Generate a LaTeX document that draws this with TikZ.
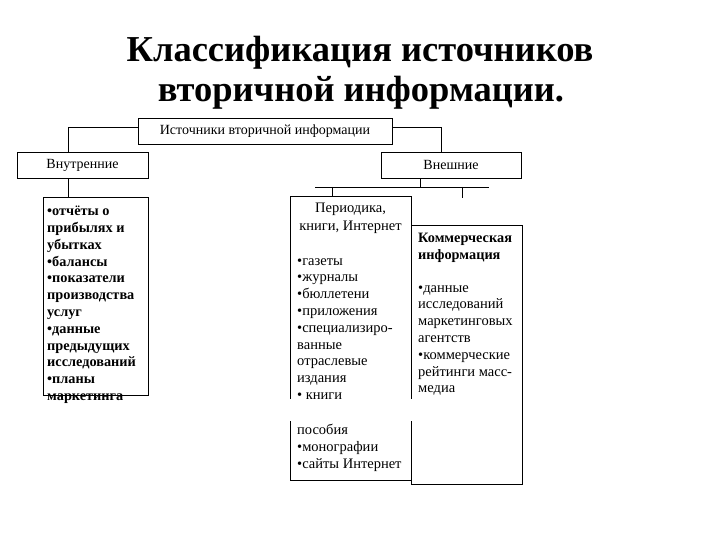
\documentclass[tikz,border=0pt]{standalone}
\usepackage{fontspec}
\setmainfont{Liberation Serif}
\usetikzlibrary{calc,positioning}

\begin{document}
\begin{tikzpicture}[
  x=1pt, y=-1pt,
  box/.style={draw, line width=0.9pt, inner sep=0pt, font=\fontsize{14}{16}\selectfont},
  frame/.style={draw, line width=0.9pt, inner sep=0pt, anchor=north west},
  lst/.style={align=left, anchor=north west, inner sep=0pt, font=\fontsize{14.5}{16.8}\selectfont},
  lstb/.style={lst, font=\fontsize{14.3}{16.8}\selectfont\bfseries},
  ln/.style={line width=0.9pt}
]
\useasboundingbox (0,0) rectangle (720,540);

% title
\node[anchor=base, font=\fontsize{36.5}{42}\selectfont\bfseries] (t1) at (360,62) {Классификация источников};
\node[anchor=base, font=\fontsize{36.5}{42}\selectfont\bfseries] (t2) at (361,102) {вторичной информации.};

% upper levels
\node[box, minimum width=254, minimum height=26] (src) at (265,131) {Источники вторичной информации};
\node[box, minimum width=131, minimum height=26] (intl) at (82.5,165) {Внутренние};
\node[box, minimum width=140, minimum height=26] (extl) at (451,165) {Внешние};

% lower boxes
\node[frame, minimum width=105, minimum height=198] (ib) at (43,197) {};
\node[frame, minimum width=121, minimum height=284] (pb) at (290,196) {};
\node[frame, minimum width=111, minimum height=259] (cb) at (411,225) {};

\coordinate (jl) at (68,127);
\coordinate (jr) at (441,127);
\coordinate (jm) at (420,187);
\coordinate (bl) at (315,187);
\coordinate (br) at (489,187);
\coordinate (tp) at (332,187);
\coordinate (tk) at (462,198);

\draw[ln] (src.west |- jl) -- (jl) -- (jl |- intl.north);
\draw[ln] (src.east |- jr) -- (jr) -- (jr |- extl.north);
\draw[ln] (jl |- intl.south) -- (jl |- ib.north);
\draw[ln] (jm |- extl.south) -- (jm);
\draw[ln] (bl) -- (br);
\draw[ln] (tp) -- (tp |- pb.north);
\draw[ln] (tk |- bl) -- (tk);

% cut band across the middle column
\fill[white] (285,399) rectangle (419,421);

% texts
\node[lstb] (it) at (47,206) {•отчёты о\\прибылях и\\убытках\\•балансы\\•показатели\\производства\\услуг\\•данные\\предыдущих\\исследований\\•планы\\маркетинга};
\node[align=center, inner sep=0pt, anchor=north, font=\fontsize{14.5}{17.5}\selectfont] (pt) at (350.5,203) {Периодика,\\книги, Интернет};
\node[lst] (pl) at (297,258) {•газеты\\•журналы\\•бюллетени\\•приложения\\•специализиро-\\ванные\\отраслевые\\издания\\• книги};
\node[lst] (pl2) at (297,424) {пособия\\•монографии\\•сайты Интернет};
\node[lstb] (ct) at (418,233) {Коммерческая\\информация};
\node[lst] (cl) at (418,285) {•данные\\исследований\\маркетинговых\\агентств\\•коммерческие\\рейтинги масс-\\медиа};
\end{tikzpicture}
\end{document}
